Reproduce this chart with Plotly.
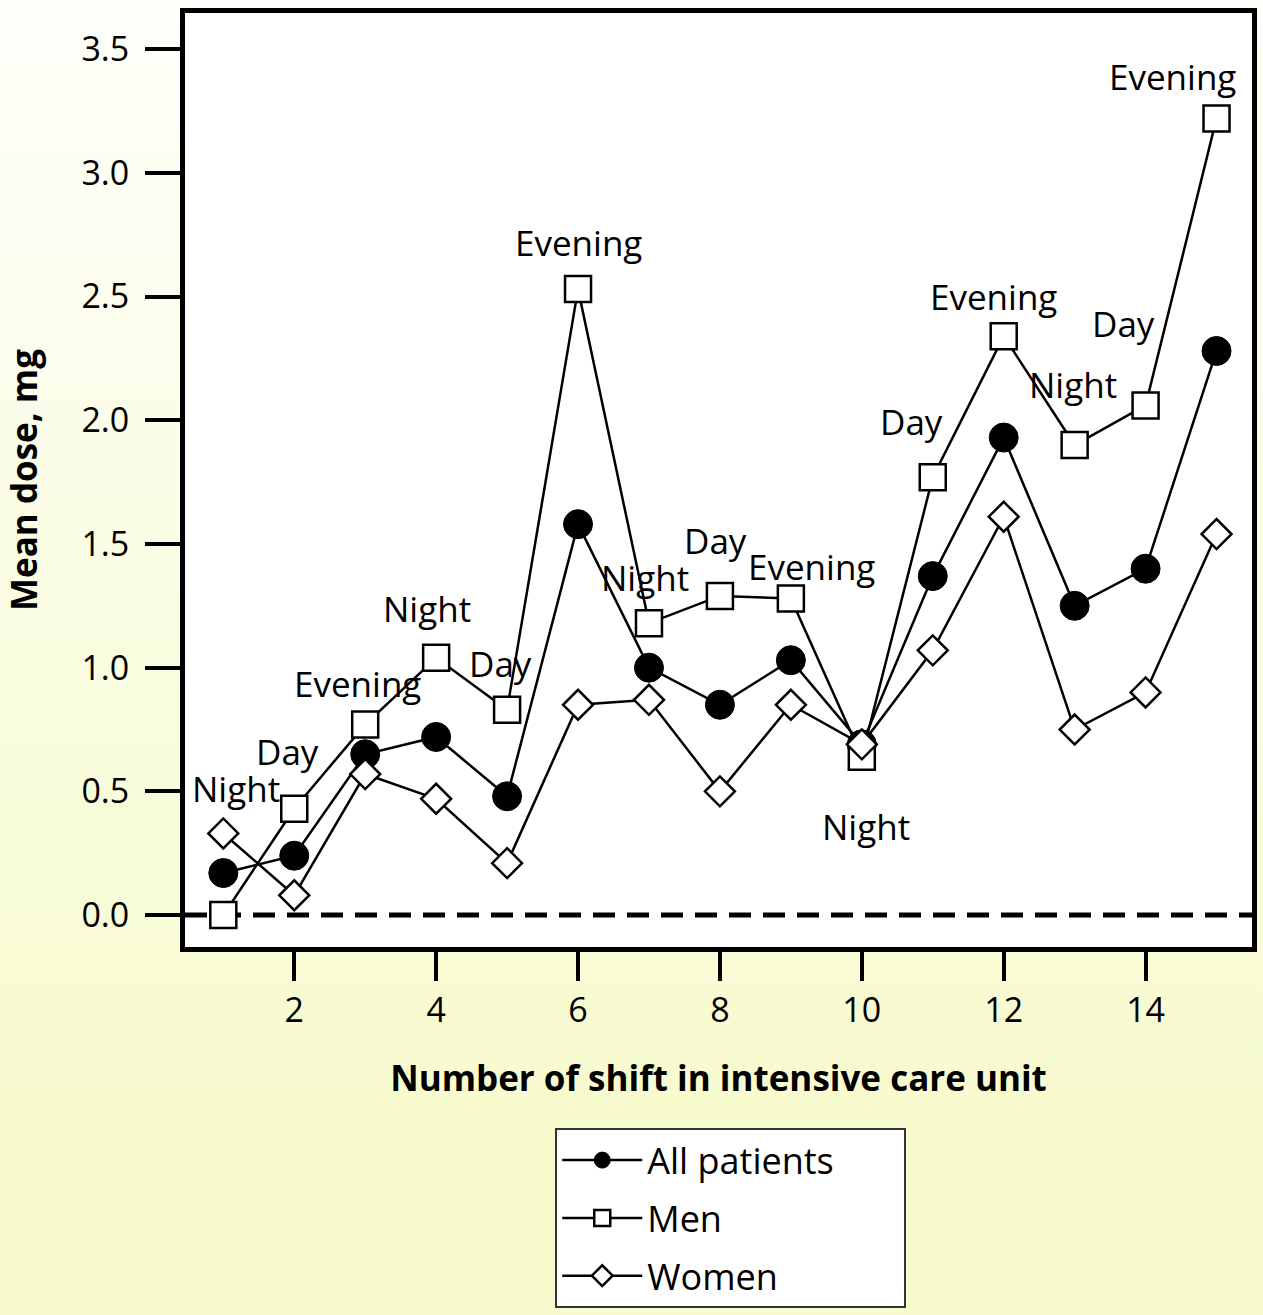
import plotly.graph_objects as go

# ---- data ----
shift_number = list(range(1, 16))
all_patients = [0.17, 0.24, 0.65, 0.72, 0.48, 1.58, 1.00, 0.85, 1.03, 0.69, 1.37, 1.93, 1.25, 1.40, 2.28]
men = [0.00, 0.43, 0.77, 1.04, 0.83, 2.53, 1.18, 1.29, 1.28, 0.64, 1.77, 2.34, 1.90, 2.06, 3.22]
women = [0.33, 0.08, 0.57, 0.47, 0.21, 0.85, 0.87, 0.50, 0.85, 0.69, 1.07, 1.61, 0.75, 0.90, 1.54]
shift_names = ["Night", "Day", "Evening", "Night", "Day", "Evening", "Night", "Day",
               "Evening", "Night", "Day", "Evening", "Night", "Day", "Evening"]
series_names = ["All patients", "Men", "Women"]
y_ticks = [0.0, 0.5, 1.0, 1.5, 2.0, 2.5, 3.0, 3.5]
x_ticks = [2, 4, 6, 8, 10, 12, 14]

# label placement (data coordinates)
label_x = [1.18, 1.90, 2.89, 3.87, 4.91, 6.00, 6.94, 7.94, 9.29, 10.06, 10.70, 11.85, 12.98, 13.69, 14.38]
label_y = [0.51, 0.66, 0.935, 1.24, 1.015, 2.72, 1.365, 1.515, 1.41, 0.36, 1.995, 2.50, 2.145, 2.39, 3.39]

W, H = 1263, 1315
ML, MR, MT, MB = 185, 6, 13, 368
FONT = "Open Sans"
PAD = "\u00a0" * 7  # legend right padding

fig = go.Figure()

line_style = dict(color="black", width=2.5)
fig.add_trace(go.Scatter(
    x=shift_number, y=all_patients, name=series_names[0] + PAD, mode="lines+markers",
    line=line_style, legendgroup="a",
    marker=dict(symbol="circle", size=29, color="black", line=dict(color="black", width=1))))
fig.add_trace(go.Scatter(
    x=shift_number, y=men, name=series_names[1], mode="lines+markers",
    line=line_style, legendgroup="b",
    marker=dict(symbol="square", size=26, color="white", line=dict(color="black", width=2.5))))
fig.add_trace(go.Scatter(
    x=shift_number, y=women, name=series_names[2], mode="lines+markers",
    line=line_style, legendgroup="c",
    marker=dict(symbol="diamond", size=23, color="white", line=dict(color="black", width=2.5))))

# ---- background gradient (paper) ----
plot_h = H - MT - MB
plot_w = W - ML - MR
shapes = []
nb = 60
for i in range(nb):
    p0 = H * i / nb
    p1 = H * (i + 1) / nb + 1
    t = min(((p0 + p1) / 2) / 1100.0, 1.0)
    c0 = (254, 254, 250)
    c1 = (247, 251, 206)
    col = tuple(round(c0[k] + (c1[k] - c0[k]) * t) for k in range(3))
    y0 = (H - MB - p0) / plot_h
    y1 = (H - MB - p1) / plot_h
    shapes.append(dict(type="rect", xref="paper", yref="paper",
                       x0=-(ML + 5) / plot_w, x1=1 + (MR + 5) / plot_w,
                       y0=y1, y1=y0, fillcolor="rgb(%d,%d,%d)" % col,
                       line=dict(width=0), layer="below"))
# white plot area
shapes.append(dict(type="rect", xref="x domain", yref="y domain", x0=0, x1=1, y0=0, y1=1,
                   fillcolor="white", line=dict(width=0), layer="below"))
# dashed zero line
shapes.append(dict(type="line", xref="x domain", yref="y", x0=0, x1=1, y0=0, y1=0,
                   line=dict(color="black", width=5, dash="22px,12px"), layer="below"))

annotations = []
for name, lx, ly in zip(shift_names, label_x, label_y):
    annotations.append(dict(x=lx, y=ly, text=name, showarrow=False,
                            font=dict(family=FONT, size=35, color="black"),
                            xanchor="center", yanchor="middle"))

fig.update_layout(
    width=W, height=H,
    margin=dict(l=ML, r=MR, t=MT, b=MB),
    paper_bgcolor="rgb(250,252,228)",
    plot_bgcolor="white",
    shapes=shapes,
    annotations=annotations,
    showlegend=True,
    legend=dict(x=0.347, y=-0.194, xanchor="left", yanchor="top",
                bgcolor="white", bordercolor="#333333", borderwidth=2,
                font=dict(family=FONT, size=36, color="black"),
                itemwidth=80, tracegroupgap=8),
    font=dict(family=FONT, color="black"),
)

fig.update_xaxes(
    range=[0.46, 15.50], tickvals=x_ticks, ticktext=[str(v) for v in x_ticks],
    showgrid=False, zeroline=False,
    showline=True, linecolor="black", linewidth=5, mirror=True,
    ticks="outside", ticklen=29, tickwidth=4, tickcolor="black",
    ticklabelstandoff=0,
    tickfont=dict(family=FONT, size=34, color="black"),
    title=dict(text="<b>Number of shift in intensive care unit</b>",
               font=dict(family=FONT, size=35, color="black"), standoff=37),
)
fig.update_yaxes(
    range=[-0.129, 3.646], tickvals=y_ticks, ticktext=["%.1f" % v for v in y_ticks],
    showgrid=False, zeroline=False,
    showline=True, linecolor="black", linewidth=5, mirror=True,
    ticks="outside", ticklen=35, tickwidth=4, tickcolor="black",
    ticklabelstandoff=9,
    tickfont=dict(family=FONT, size=34, color="black"),
    title=dict(text="<b>Mean dose, mg</b>",
               font=dict(family=FONT, size=35, color="black"), standoff=38),
)

fig.write_html("out.html", config={"displayModeBar": False},
               post_script="document.body.style.margin='0';document.body.style.overflow='hidden';"
                           "document.documentElement.style.overflow='hidden';")
